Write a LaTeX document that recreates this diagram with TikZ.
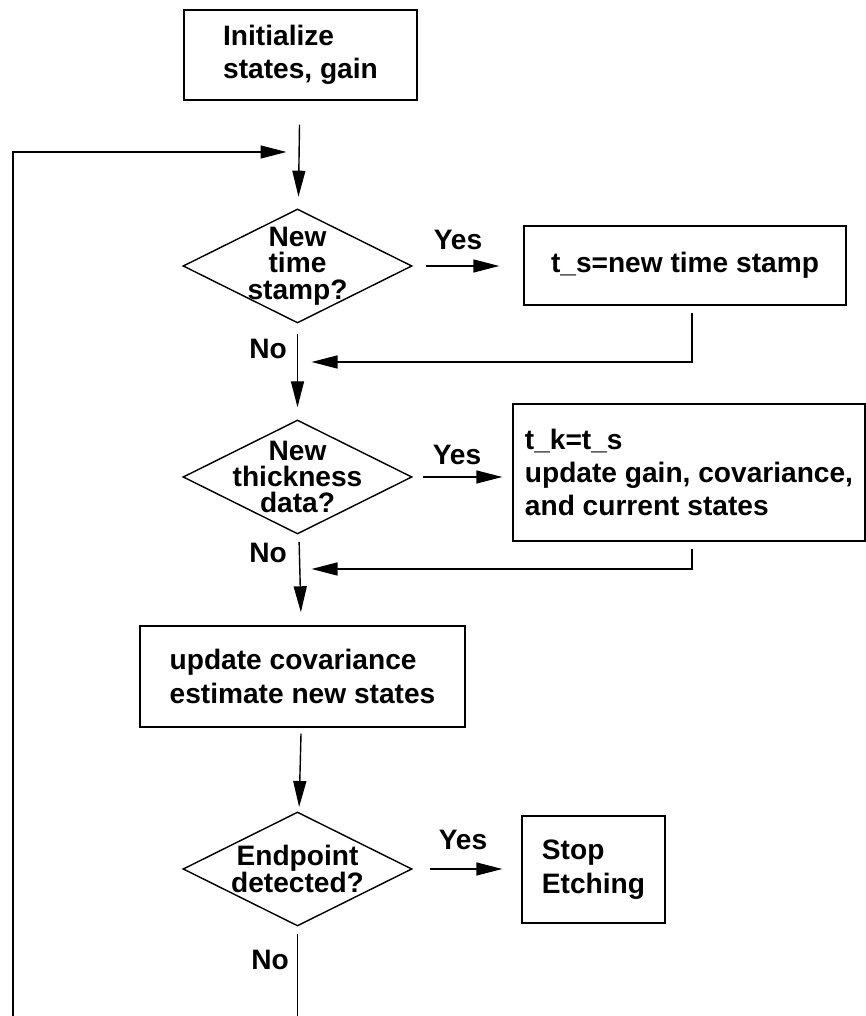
\documentclass[tikz,border=0pt]{standalone}
\usepackage{fontspec}
\setmainfont{Liberation Sans}
\usetikzlibrary{shapes.geometric,arrows.meta}
\tikzstyle{every picture} = [line width=0.8pt, font=\fontsize{16}{19}\selectfont\bfseries]
\tikzstyle{box} = [draw, rectangle, align=left, inner sep=0pt]
\tikzstyle{test} = [draw, diamond, minimum width=4.58cm, minimum height=2.28cm, inner sep=0pt]
\tikzstyle{query} = [align=center, inner sep=0pt, font=\fontsize{16}{15}\selectfont\bfseries]
\tikzstyle{flow} = [-{Triangle[length=0.52cm,width=0.26cm]}, shorten <=0.16cm, shorten >=0.24cm]

\begin{document}
\begin{tikzpicture}
            \useasboundingbox (0,0) rectangle (17.32,20.32);

            \node (box 1) at(6.01,19.22) [box, minimum width=4.66cm, minimum height=1.80cm] {Initialize\\states, gain};
            \node (test 1) at(5.95,15.00) [test] {};
            \node (text 1) at(test 1) [query] {New\\time\\stamp?};
            \node (box 2) at(13.70,15.01) [box, minimum width=6.44cm, minimum height=1.58cm] {t\_s=new time stamp};
            \node (test 2) at(5.95,10.78) [test] {};
            \node (text 2) at(test 2) [query] {New\\thickness\\data?};
            \node (box 3) at(13.78,10.87) [box, minimum width=7.04cm, minimum height=2.74cm] {t\_k=t\_s\\update gain, covariance,\\and current states};
            \node (box 4) at(6.05,6.79) [box, minimum width=6.50cm, minimum height=2.02cm] {update covariance\\estimate new states};
            \node (test 3) at(5.95,2.94) [test] {};
            \node (text 3) at(test 3) [query] {Endpoint\\detected?};
            \node (box 5) at(11.87,2.93) [box, minimum width=2.86cm, minimum height=2.14cm] {Stop\\Etching};

            \node (yes 1) at(9.16,15.52) {Yes};
            \node (yes 2) at(9.14,11.22) {Yes};
            \node (yes 3) at(9.26,3.52) {Yes};
            \node (no 1) at(5.36,13.34) {No};
            \node (no 2) at(5.36,9.26) {No};
            \node (no 3) at(5.40,1.12) {No};

            \coordinate (join 0) at(5.95,17.28);
            \coordinate (join 1) at(5.95,13.08);
            \coordinate (join 2) at(5.95,8.94);
            \coordinate (loop) at(0.26,0);
            \coordinate (exit) at(5.95,0);

            \path 	(box 1) edge[flow, shorten <=0.48cm] (test 1)
            		(test 1) edge[flow, shorten <=0.2cm] (test 2)
            		(test 2) edge[flow, shorten >=0.26cm] (box 4)
            		(box 4) edge[flow, shorten <=0.12cm, shorten >=0.1cm] (test 3)
            		(test 1.east) edge[flow, shorten <=0.26cm, shorten >=0.48cm] (test 1.east -| box 2.west)
            		(test 2.east) edge[flow, shorten <=0.2cm, shorten >=0.2cm] (test 2.east -| box 3.west)
            		(test 3.east) edge[flow, shorten <=0.34cm, shorten >=0.38cm] (test 3.east -| box 5.west)
            		(test 3) edge[shorten <=0.14cm] (exit);

            \draw[flow, shorten <=0.14cm, shorten >=0.28cm] ([xshift=0.14cm]box 2.south) |- (join 1);
            \draw[flow, shorten <=0.14cm, shorten >=0.28cm] ([xshift=0.06cm]box 3.south) |- (join 2);
            \draw[flow, shorten <=0pt, shorten >=0.22cm] (loop) |- (join 0);

        \end{tikzpicture}
\end{document}
